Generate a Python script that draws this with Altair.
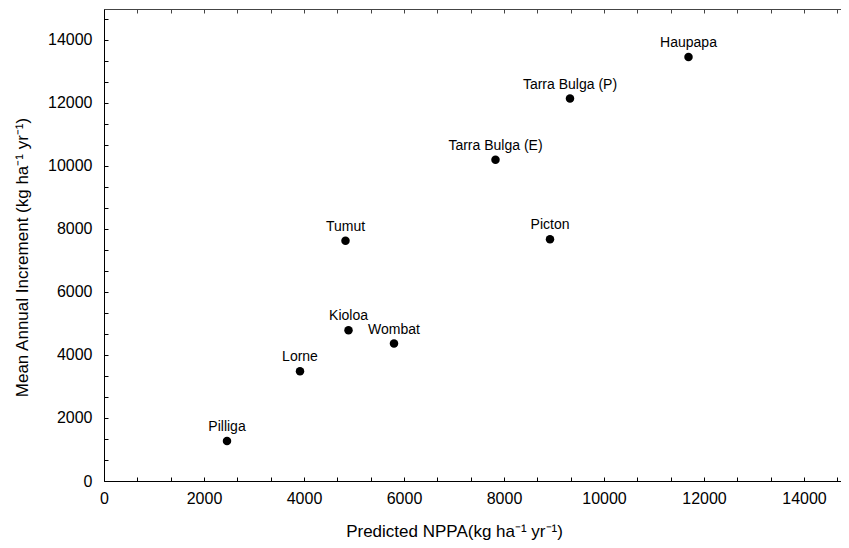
import altair as alt
import pandas as pd

sites = ["Pilliga", "Lorne", "Kioloa", "Wombat", "Tumut", "Picton",
         "Tarra Bulga (E)", "Tarra Bulga (P)", "Haupapa"]
npp = [2460, 3920, 4890, 5800, 4830, 8920, 7830, 9320, 11690]
mai = [1270, 3480, 4780, 4360, 7620, 7670, 10190, 12130, 13450]

tick_values = [i * 2000 / 3 for i in range(0, 23)]
x_domain = [0, 14740]
y_domain = [0, 14970]

df = pd.DataFrame({"site": sites, "npp": npp, "mai": mai})

FONT = "Liberation Sans"
label_expr = "datum.value % 2000 === 0 ? datum.label : ''"

x_bottom = alt.Axis(
    orient="bottom", values=tick_values, format="d", labelExpr=label_expr,
    tickSize={"expr": "-4"}, labelPadding=13, labelFontSize=16, labelFont=FONT,
    labelColor="black", labelFlush=False, labelOverlap=False,
    domainColor="black", tickColor="black", grid=False,
    title="Predicted NPPA(kg ha⁻¹ yr⁻¹)", titleFont=FONT, titleFontSize=17,
    titleFontWeight="normal", titleColor="black",
    titleX=350, titleY=55, titleAlign="center", titleBaseline="alphabetic",
)
x_top = alt.Axis(
    orient="top", values=tick_values, labels=False,
    tickSize={"expr": "-4"}, domainColor="#444444", tickColor="#444444",
    grid=False, title=None,
)
y_left = alt.Axis(
    orient="left", values=tick_values, format="d", labelExpr=label_expr,
    tickSize={"expr": "-4"}, labelPadding=16, labelFontSize=16, labelFont=FONT,
    labelColor="black", labelFlush=False, labelOverlap=False,
    domainColor="black", tickColor="black", grid=False,
    title="Mean Annual Increment (kg ha⁻¹ yr⁻¹)", titleFont=FONT, titleFontSize=17,
    titleFontWeight="normal", titleColor="black",
    titleX=-77, titleY=248, titleAlign="center", titleBaseline="alphabetic",
    titleAngle=270,
)

y_scale = alt.Scale(domain=y_domain, nice=False, zero=False)
x_scale = alt.Scale(domain=x_domain, nice=False, zero=False)

points = alt.Chart(df).mark_circle(size=72, color="black", opacity=1).encode(
    x=alt.X("npp:Q", scale=x_scale, axis=x_bottom),
    y=alt.Y("mai:Q", scale=y_scale, axis=y_left),
)

labels = alt.Chart(df).mark_text(
    font=FONT, fontSize=14, color="black", align="center",
    baseline="alphabetic", dy=-10,
).encode(
    x=alt.X("npp:Q", scale=x_scale, axis=x_top),
    y=alt.Y("mai:Q", scale=y_scale, axis=y_left),
    text="site:N",
)

chart = alt.layer(points, labels).resolve_axis(x="independent").properties(
    width=737, height=472,
    padding={"left": 96, "top": 1, "right": 0, "bottom": 59},
    autosize=alt.AutoSizeParams(type="none"),
).configure_view(stroke=None).configure(background="white")

chart.save("out.html", embed_options={"renderer": "svg", "actions": False})
